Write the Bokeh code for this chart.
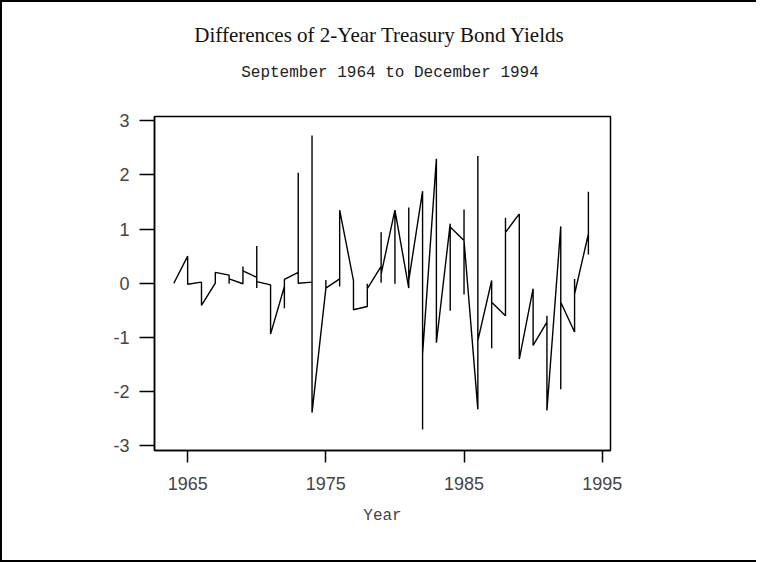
from bokeh.plotting import figure
from bokeh.models import FixedTicker, Range1d, Div
from bokeh.layouts import column
from bokeh.embed import file_html
from bokeh.resources import INLINE

# Observations (year, difference); several observations share a year
years = [1964,
         1965, 1965,
         1966, 1966,
         1967, 1967,
         1968, 1968, 1968,
         1969, 1969, 1969,
         1970, 1970, 1970, 1970,
         1971, 1971,
         1972, 1972, 1972,
         1973, 1973, 1973,
         1974, 1974, 1974,
         1975, 1975, 1975,
         1976, 1976, 1976,
         1977, 1977,
         1978, 1978, 1978,
         1979, 1979, 1979, 1979,
         1980, 1980, 1980,
         1981, 1981, 1981,
         1982, 1982, 1982,
         1983, 1983,
         1984, 1984, 1984,
         1985, 1985, 1985, 1985,
         1986, 1986, 1986,
         1987, 1987, 1987,
         1988, 1988, 1988,
         1989, 1989,
         1990, 1990,
         1991, 1991, 1991,
         1992, 1992, 1992,
         1993, 1993, 1993,
         1994, 1994, 1994]
diffs = [0.00,
         0.50, -0.02,
         0.02, -0.41,
         0.00, 0.20,
         0.15, -0.01, 0.08,
         -0.01, 0.31, 0.23,
         0.11, 0.69, -0.09, 0.03,
         -0.03, -0.94,
         -0.06, -0.46, 0.07,
         0.20, 2.04, 0.00,
         0.02, 2.73, -2.39,
         -0.10, 0.06, -0.09,
         0.08, -0.06, 1.35,
         0.05, -0.49,
         -0.43, -0.01, -0.10,
         0.31, 0.94, 0.01, 0.17,
         1.35, -0.01, 1.35,
         -0.09, 1.40, 0.05,
         1.70, -2.70, -1.31,
         2.30, -1.10,
         1.10, -0.51, 1.04,
         0.79, 1.36, -0.21, 0.79,
         -2.33, 2.35, -1.06,
         0.05, -1.20, -0.35,
         -0.60, 1.21, 0.94,
         1.28, -1.40,
         -0.10, -1.15,
         -0.72, -0.60, -2.35,
         1.05, -1.96, -0.35,
         -0.90, 0.08, -0.20,
         0.91, 1.69, 0.53]

x_ticks = [1965, 1975, 1985, 1995]
y_ticks = [-3, -2, -1, 0, 1, 2, 3]
title_text = "Differences of 2-Year Treasury Bond Yields"
subtitle_text = "September 1964 to December 1994"
x_label = "Year"

header_h = 100
header = Div(
    text=(
        '<div style="position:relative;width:758px;height:%dpx;">'
        '<div style="position:absolute;left:377px;top:21px;transform:translateX(-50%%);'
        'white-space:nowrap;font-family:\'Liberation Serif\';font-size:21px;line-height:24px;'
        'color:#111111;">%s</div>'
        '<div style="position:absolute;left:388px;top:61px;transform:translateX(-50%%);'
        'white-space:nowrap;font-family:\'Liberation Mono\';font-size:16px;line-height:20px;'
        'color:#222222;">%s</div></div>'
    ) % (header_h, title_text, subtitle_text),
    width=758, height=header_h, margin=(0, 0, 0, 0))

p = figure(width=758, height=558 - header_h, output_backend="svg", toolbar_location=None,
           x_range=Range1d(1962.6, 1995.6), y_range=Range1d(-3.09, 3.08),
           min_border_left=152, min_border_right=150, min_border_top=114 - header_h,
           min_border_bottom=110, margin=(0, 0, 0, 0))
p.title = None

p.line(years, diffs, line_color="black", line_width=1.4)

p.xgrid.visible = False
p.ygrid.visible = False
p.outline_line_color = "black"
p.outline_line_width = 1.5
p.background_fill_color = "white"
p.border_fill_color = "white"

xa = p.xaxis[0]
xa.ticker = FixedTicker(ticks=x_ticks)
xa.axis_label = x_label
xa.axis_label_text_font = "Liberation Mono"
xa.axis_label_text_font_size = "16px"
xa.axis_label_text_font_style = "normal"
xa.axis_label_standoff = 14
xa.major_label_text_font = "Liberation Sans"
xa.major_label_text_font_size = "18px"
xa.major_label_standoff = 14
xa.major_tick_out = 12
xa.major_tick_in = 0
xa.minor_tick_out = 0
xa.minor_tick_in = 0
xa.axis_line_color = "black"
xa.axis_line_width = 1.5
xa.major_tick_line_width = 1.5

ya = p.yaxis[0]
ya.ticker = FixedTicker(ticks=y_ticks)
ya.major_label_overrides = {t: str(t) for t in y_ticks}
ya.major_label_text_font = "Liberation Sans"
ya.major_label_text_font_size = "18px"
ya.major_label_standoff = 10
ya.major_tick_out = 15
ya.major_tick_in = 0
ya.minor_tick_out = 0
ya.minor_tick_in = 0
ya.axis_line_color = "black"
ya.axis_line_width = 1.5
ya.major_tick_line_width = 1.5

page = column(header, p, spacing=0, margin=(0, 0, 0, 0),
              styles={"border-top": "2px solid black", "border-left": "2px solid black",
                      "border-bottom": "2px solid black", "background-color": "white",
                      "clip-path": "inset(0px 4px 0px 0px)"})

open("out.html", "w").write(file_html(page, INLINE))
